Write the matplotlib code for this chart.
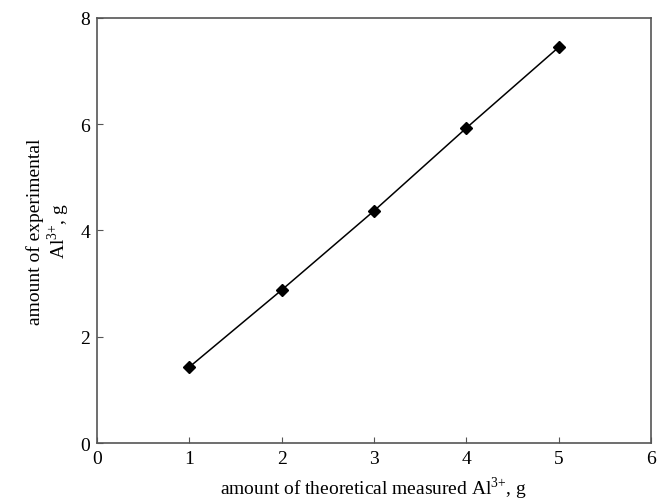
import matplotlib

matplotlib.use("Agg")
import matplotlib.pyplot as plt

plt.rcParams["font.family"] = "Liberation Serif"
plt.rcParams["mathtext.fontset"] = "custom"
plt.rcParams["mathtext.rm"] = "Liberation Serif"

theoretical = [1, 2, 3, 4, 5]
experimental = [1.43, 2.88, 4.37, 5.93, 7.45]

fig = plt.figure(figsize=(6.57, 5.02), dpi=100)
ax = fig.add_axes([0.1476, 0.1155, 0.8434, 0.8467])

ax.plot(theoretical, experimental, color="black", linewidth=1.1,
        marker="D", markersize=6, markerfacecolor="black")

ax.set_xlim(0, 6)
ax.set_ylim(0, 8)
ax.set_xticks(range(0, 7))
ax.set_yticks(range(0, 9, 2))
ax.tick_params(direction="in", length=4, labelsize=14, top=False, right=False,
               color="#555555", pad=5)
for spine in ax.spines.values():
    spine.set_color("#555555")
    spine.set_linewidth(1.2)

ax.set_xlabel(r"amount of theoretical measured Al$^{3{+}}$, g", fontsize=14, labelpad=5)
ax.set_ylabel("amount of experimental\n" + r"Al$^{3{+}}$, g", fontsize=14, labelpad=6,
              linespacing=1.05)

fig.savefig("out.png", dpi=100)
